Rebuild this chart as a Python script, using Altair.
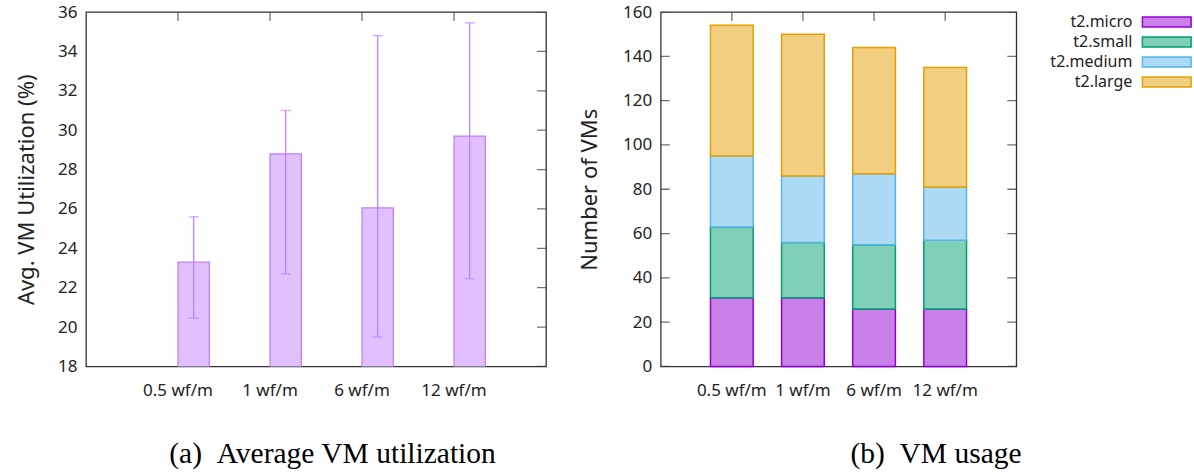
import altair as alt
import pandas as pd

# ---------------- data ----------------
categories = ["0.5 wf/m", "1 wf/m", "6 wf/m", "12 wf/m"]

util_mean = [23.3, 28.8, 26.05, 29.7]
util_lo = [20.45, 22.7, 19.5, 22.45]
util_hi = [25.6, 31.0, 34.8, 35.45]

vm_types = ["t2.micro", "t2.small", "t2.medium", "t2.large"]
vm_micro = [31, 31, 26, 26]
vm_small = [32, 25, 29, 31]
vm_medium = [32, 30, 32, 24]
vm_large = [59, 64, 57, 54]

y_ticks_util = [18, 20, 22, 24, 26, 28, 30, 32, 34, 36]
y_ticks_vms = [0, 20, 40, 60, 80, 100, 120, 140, 160]

caption_a = "(a)\u00a0\u00a0Average VM utilization"
caption_b = "(b)\u00a0\u00a0VM usage"

# ---------------- styles ----------------
FONT = "Noto Sans"
TXT = "#222222"
BOX = "#333333"
PURPLE = "#c080ff"
PURPLE_FILL = "#e0c0ff"
fills = ["#c980e9", "#80cfb9", "#acd9f3", "#f2cf80"]
strokes = ["#9400d3", "#009e73", "#56b4e9", "#e69f00"]

WA, WB, H = 460, 355.6, 354.5

df_a = pd.DataFrame({"cat": categories, "mean": util_mean, "lo": util_lo, "hi": util_hi})

rows = []
for i, c in enumerate(categories):
    for k, (t, vals) in enumerate(zip(vm_types, [vm_micro, vm_small, vm_medium, vm_large])):
        rows.append({"cat": c, "type": t, "count": vals[i], "order": k})
df_b = pd.DataFrame(rows)

df_cat = pd.DataFrame({"cat": categories})
df_yt_a = pd.DataFrame({"v": y_ticks_util})
df_yt_b = pd.DataFrame({"v": y_ticks_vms})
df_leg = pd.DataFrame({"type": vm_types})

band = alt.Scale(paddingInner=0, paddingOuter=0.5)
x_axis = alt.Axis(title=None, labelAngle=0, labelPadding=16)

# ---------------- chart (a) ----------------
TA = "Avg. VM Utilization (%)"
xa = alt.X("cat:N", sort=categories, scale=band, axis=x_axis)
ya_scale = alt.Scale(domain=[18, 36], zero=False, nice=False)
ya_axis = alt.Axis(values=y_ticks_util, title=TA, labelPadding=9, titlePadding=19)

bars_a = alt.Chart(df_a).mark_bar(
    width=31.3, xOffset=15.7, fill=PURPLE_FILL, stroke=PURPLE, strokeWidth=1.3, clip=True
).encode(x=xa, y=alt.Y("mean:Q", scale=ya_scale, axis=ya_axis, title=TA))
err_a = alt.Chart(df_a).mark_rule(xOffset=15.7, color=PURPLE, strokeWidth=1.3).encode(
    x=xa, y=alt.Y("lo:Q", scale=ya_scale, axis=ya_axis, title=TA), y2="hi:Q")
cap_lo = alt.Chart(df_a).mark_tick(xOffset=15.7, size=10, thickness=1.3, orient="horizontal",
                                   color=PURPLE).encode(
    x=xa, y=alt.Y("lo:Q", scale=ya_scale, axis=ya_axis, title=TA))
cap_hi = alt.Chart(df_a).mark_tick(xOffset=15.7, size=10, thickness=1.3, orient="horizontal",
                                   color=PURPLE).encode(
    x=xa, y=alt.Y("hi:Q", scale=ya_scale, axis=ya_axis, title=TA))
top_a = alt.Chart(df_cat).mark_tick(orient="vertical", size=18, thickness=1.3, color=BOX,
                                    clip=True).encode(x=xa, y=alt.value(0))
right_a = alt.Chart(df_yt_a).mark_tick(orient="horizontal", size=18, thickness=1.3, color=BOX,
                                       clip=True).encode(
    y=alt.Y("v:Q", scale=ya_scale, axis=ya_axis, title=TA), x=alt.value(WA))

chart_a = alt.layer(bars_a, err_a, cap_lo, cap_hi, top_a, right_a).properties(
    width=WA, height=H,
    view=alt.ViewBackground(stroke=BOX, strokeWidth=1.3),
    title=alt.TitleParams(caption_a, orient="bottom", frame="group", anchor="middle",
                          baseline="top", offset=41, dx=16.5),
)

# ---------------- chart (b) ----------------
TB = "Number of VMs"
xb = alt.X("cat:N", sort=categories, scale=band, axis=x_axis)
yb_scale = alt.Scale(domain=[0, 160], nice=False)
yb_axis = alt.Axis(values=y_ticks_vms, title=TB, labelPadding=9, titlePadding=21.5)
fill_enc = alt.Fill("type:N", scale=alt.Scale(domain=vm_types, range=fills), legend=None)
stroke_enc = alt.Stroke("type:N", scale=alt.Scale(domain=vm_types, range=strokes), legend=None)

bars_b = alt.Chart(df_b).mark_bar(width=42.7, strokeWidth=1.5).encode(
    x=xb,
    y=alt.Y("count:Q", stack="zero", scale=yb_scale, axis=yb_axis, title=TB),
    fill=fill_enc,
    stroke=stroke_enc,
    order=alt.Order("order:Q"),
)
top_b = alt.Chart(df_cat).mark_tick(orient="vertical", size=18, thickness=1.3, color=BOX,
                                    clip=True).encode(x=xb, y=alt.value(0))
left_b = alt.Chart(df_yt_b).mark_tick(orient="horizontal", size=18, thickness=1.3, color=BOX,
                                      clip=True).encode(
    y=alt.Y("v:Q", scale=yb_scale, axis=yb_axis, title=TB), x=alt.value(0))
right_b = alt.Chart(df_yt_b).mark_tick(orient="horizontal", size=18, thickness=1.3, color=BOX,
                                       clip=True).encode(
    y=alt.Y("v:Q", scale=yb_scale, axis=yb_axis, title=TB), x=alt.value(WB))

chart_b = alt.layer(bars_b, top_b, left_b, right_b).properties(
    width=WB, height=H,
    view=alt.ViewBackground(stroke=BOX, strokeWidth=1.3),
    title=alt.TitleParams(caption_b, orient="bottom", frame="group", anchor="middle",
                          baseline="top", offset=41, dx=97.5),
)

# ---------------- legend panel ----------------
yl = alt.Y("type:N", sort=vm_types, scale=alt.Scale(paddingInner=0, paddingOuter=0), axis=None)
leg_sw = alt.Chart(df_leg).mark_bar(height=10, strokeWidth=1.5).encode(
    y=yl, x=alt.value(11), x2=alt.value(59.7), fill=fill_enc, stroke=stroke_enc)
leg_tx = alt.Chart(df_leg).mark_text(align="right", baseline="middle", font=FONT, fontSize=16,
                                     color=TXT).encode(y=yl, x=alt.value(1), text="type:N")
chart_c = alt.layer(leg_sw, leg_tx).properties(
    width=62, height=80, view=alt.ViewBackground(stroke="transparent"))

chart = alt.hconcat(chart_a, chart_b, chart_c, spacing=114.7, bounds="flush").resolve_scale(
    x="independent", y="independent"
).properties(
    padding={"left": 14, "top": 2, "right": 0, "bottom": 0}
).configure_view(stroke="transparent").configure_axis(
    labelFont=FONT, labelFontSize=17, labelColor=TXT,
    titleFont=FONT, titleFontSize=22, titleFontWeight="normal", titleColor=TXT,
    ticks=False, domain=False, grid=False,
).configure_title(
    font="Liberation Serif", fontSize=29.5, fontWeight="normal", color="#000000"
)

chart.save("out.html", embed_options={"renderer": "svg", "actions": False})
